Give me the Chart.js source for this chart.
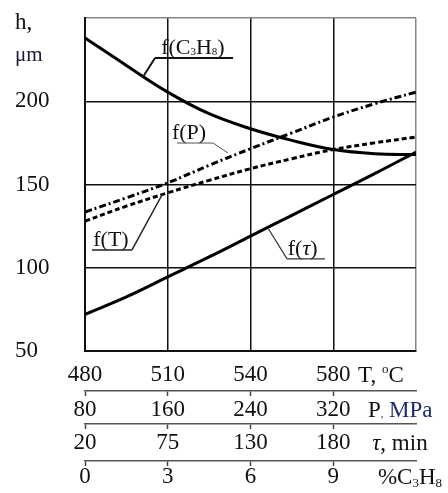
<!DOCTYPE html>
<html>
<head>
<meta charset="utf-8">
<script src="https://cdn.jsdelivr.net/npm/chart.js@4.4.0/dist/chart.umd.min.js"></script>
<style>
  html, body { margin: 0; padding: 0; background: #fff; }
</style>
</head>
<body>
<canvas id="c" width="448" height="493"></canvas>
<script>
// common horizontal position 0..4 = vertical grid lines
const xPos = [0, 0.5, 1, 1.5, 2, 2.5, 3, 3.5, 4];

// tick labels of the four stacked horizontal scales
const tempLabels = ['480', '510', '540', '580', ''];
const pressLabels = ['80', '160', '240', '320', ''];
const timeLabels = ['20', '75', '130', '180', ''];
const propaneLabels = ['0', '3', '6', '9', ''];
const hTicks = [50, 100, 150, 200];

// h, um
const hPropane = [238, 221.5, 205.5, 192.5, 183.5, 176.5, 171, 168.5, 168];
const hPressure = [133.5, 142, 151, 161.5, 171.5, 181, 190.5, 198.5, 205.5];
const hTemp = [128, 137, 145, 152.5, 159.5, 165.5, 171, 175, 178.5];
const hTime = [72, 82.5, 94.5, 106.5, 119, 131.5, 144, 156.5, 169.5];

const SERIF = '"Liberation Serif", "DejaVu Serif", serif';
const pts = arr => xPos.map((x, i) => ({ x, y: arr[i] }));

// draw a run of text pieces: [text, size, dy, italic, color]
function drawRich(ctx, parts, x, y) {
  ctx.textBaseline = 'alphabetic';
  ctx.textAlign = 'left';
  for (const [t, size, dy = 0, it = false, col = '#111'] of parts) {
    ctx.font = (it ? 'italic ' : '') + size + 'px ' + SERIF;
    ctx.fillStyle = col;
    ctx.fillText(t, x, y + dy);
    x += ctx.measureText(t).width;
  }
}

// curve labels with underline and leader line (data units)
const notes = [
  { parts: [['f(C', 22], ['3', 11, 1], ['H', 22], ['8', 11, 1], [')', 22]], tx: 0.92, ul: [0.846, 1.789], uy: 226, lead: [0.70, 214.6], w: 2, col: '#111' },
  { parts: [['f(P)', 22]], tx: 1.05, ul: [1.112, 1.547], uy: 174.9, lead: [1.728, 168.9], w: 1, col: '#555', from: 1 },
  { parts: [['f(T)', 22]], tx: 0.1, ul: [0.085, 0.568], uy: 110.7, lead: [0.943, 144.9], w: 1.5, col: '#222', from: 1 },
  { parts: [['f(', 22], ['\u03C4', 22, 0, true], [')', 22]], tx: 2.45, ul: [2.441, 2.9], uy: 105.3, lead: [2.211, 123.9], w: 1.2, col: '#333' },
];

// unit captions after each tick row
const units = [
  { axis: 'x', tx: 3.3, parts: [['T, ', 23], ['o', 13, -9], ['C', 23]] },
  { axis: 'x2', tx: 3.42, parts: [['P', 23], [',', 10], [' MPa', 23, 0, false, '#1d2b70']] },
  { axis: 'x3', tx: 3.47, parts: [['\u03C4', 23, 0, true], [', min', 23]] },
  { axis: 'x4', tx: 3.54, parts: [['%C', 23], ['3', 13, 3], ['H', 23], ['8', 13, 3]] },
];

const captions = {
  id: 'captions',
  afterDraw(chart) {
    const { ctx, scales } = chart;
    const sx = scales.x, sy = scales.y;
    ctx.save();
    // y title
    drawRich(ctx, [['h,', 23]], sy.left, 29);
    drawRich(ctx, [['\u03BCm', 21, 0, false, '#1a1a3a']], sy.left, 61);
    // units
    for (const u of units) {
      const s = scales[u.axis];
      const tl = s.options.grid.drawTicks ? s.options.grid.tickLength : 0;
      const mid = s.top + tl + s.options.ticks.padding + 13.8;
      drawRich(ctx, u.parts, sx.getPixelForValue(u.tx), mid + 7);
    }
    // curve notes
    for (const n of notes) {
      const y = sy.getPixelForValue(n.uy);
      const x0 = sx.getPixelForValue(n.ul[0]);
      const x1 = sx.getPixelForValue(n.ul[1]);
      ctx.strokeStyle = n.col;
      ctx.lineWidth = n.w;
      ctx.beginPath();
      ctx.moveTo(x0, y);
      ctx.lineTo(x1, y);
      ctx.moveTo(n.from ? x1 : x0, y);
      ctx.lineTo(sx.getPixelForValue(n.lead[0]), sy.getPixelForValue(n.lead[1]));
      ctx.stroke();
      drawRich(ctx, n.parts, sx.getPixelForValue(n.tx), y - 4);
    }
    ctx.restore();
  }
};

const tickFont = { family: SERIF, size: 23 };
const lowerAxis = (labels, pad, h) => ({
  type: 'linear', position: 'bottom', min: 0, max: 4,
  ticks: { stepSize: 1, autoSkip: false, maxRotation: 0, padding: pad, font: tickFont, color: '#111',
    callback: v => labels[v] ?? '' },
  grid: { drawOnChartArea: false, drawTicks: true, tickLength: 5, tickWidth: 1.5,
    tickColor: c => (c.tick && c.tick.value === 4) ? 'rgba(0,0,0,0)' : '#444' },
  border: { display: true, color: '#555', width: 1.5 },
  afterFit: s => { s.height = h; },
});

const series = (label, data, dash, w) => ({
  label, data: pts(data), borderColor: '#000', borderWidth: w, borderDash: dash,
  pointRadius: 0, tension: 0.4, fill: false,
});

new Chart(document.getElementById('c'), {
  type: 'line',
  data: {
    datasets: [
      series('f(C3H8)', hPropane, [], 3),
      series('f(P)', hPressure, [7, 3, 2, 3], 3),
      series('f(T)', hTemp, [5, 3], 3),
      series('f(tau)', hTime, [], 3),
    ]
  },
  options: {
    responsive: false,
    animation: false,
    layout: { padding: { left: 15, top: 18, right: 32, bottom: 0 } },
    plugins: { legend: { display: false }, tooltip: { enabled: false }, title: { display: false } },
    scales: {
      x: {
        type: 'linear', position: 'bottom', min: 0, max: 4,
        ticks: { stepSize: 1, autoSkip: false, maxRotation: 0, padding: 10, font: tickFont, color: '#111',
          callback: v => tempLabels[v] ?? '' },
        grid: { drawTicks: false, lineWidth: 1.5,
          color: c => (c.tick && c.tick.value === 4) ? '#888' : '#111' },
        border: { display: true, color: '#111', width: 2 },
        afterFit: s => { s.height = 40; },
      },
      x2: lowerAxis(pressLabels, 0, 33),
      x3: lowerAxis(timeLabels, 0, 37),
      x4: lowerAxis(propaneLabels, -3, 32),
      y: {
        min: 50, max: 250,
        afterBuildTicks: s => { s.ticks = [50, 100, 150, 200, 250].map(v => ({ value: v })); },
        ticks: { crossAlign: 'far', font: tickFont, color: '#111',
          callback: v => hTicks.includes(v) ? String(v) : '' },
        grid: { drawTicks: false, lineWidth: 1.5,
          color: c => (c.tick && c.tick.value === 250) ? '#888' : '#111' },
        border: { display: true, color: '#111', width: 2 },
        afterFit: s => { s.width = 70; },
      },
    },
  },
  plugins: [captions],
});
</script>
</body>
</html>
